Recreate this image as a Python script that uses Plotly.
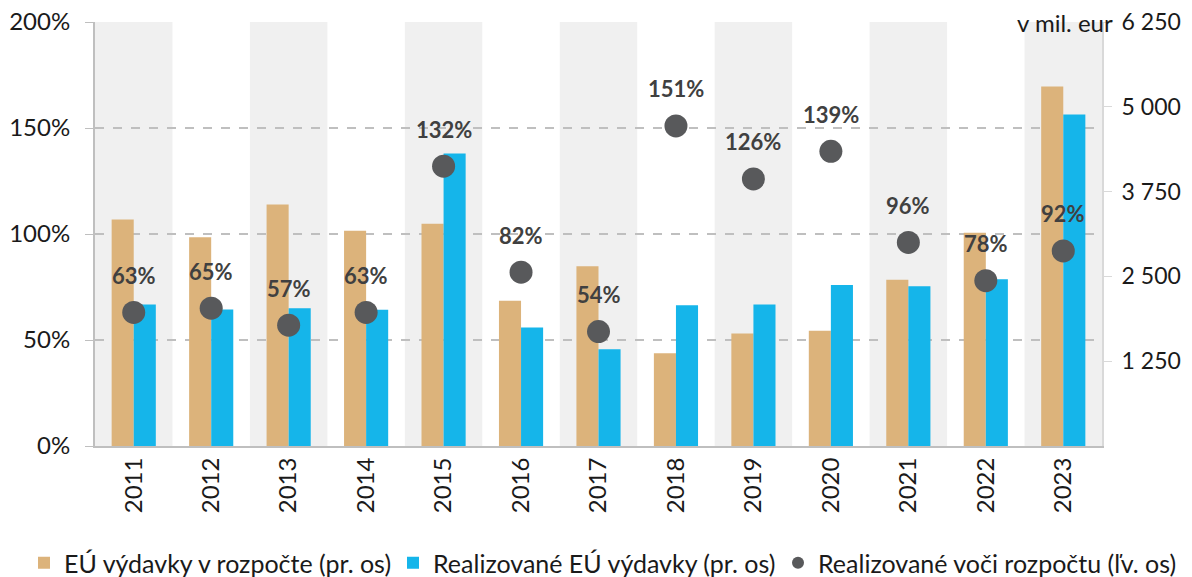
import plotly.graph_objects as go

years = [str(y) for y in range(2011, 2024)]
budget = [3338, 3078, 3560, 3172, 3275, 2140, 2650, 1368, 1658, 1700, 2450, 3143, 5300]
realized = [2085, 2012, 2031, 2007, 4312, 1747, 1427, 2076, 2085, 2375, 2356, 2459, 4887]
ratio = [63, 65, 57, 63, 132, 82, 54, 151, 126, 139, 96, 78, 92]

left_ticks = [0, 50, 100, 150, 200]
right_ticks = [1250, 2500, 3750, 5000, 6250]
right_labels = ["1 250", "2 500", "3 750", "5 000", "6 250"]

TAN = "#DCB37B"
BLUE = "#15B5EA"
DOT = "#58595B"
GRID = "#BFBFBF"
FONT = "Lato"

W, H = 1184, 569
xpos = list(range(len(years)))

fig = go.Figure()
fig.add_trace(go.Bar(x=xpos, y=budget, name="EÚ výdavky v rozpočte (pr. os)",
                     marker=dict(color=TAN, line=dict(width=0)), yaxis="y", legend="legend"))
fig.add_trace(go.Bar(x=xpos, y=realized, name="Realizované EÚ výdavky (pr. os)",
                     marker=dict(color=BLUE, line=dict(width=0)), yaxis="y", legend="legend2"))
fig.add_trace(go.Scatter(x=xpos, y=ratio, name="Realizované voči rozpočtu (ľv. os)",
                         mode="markers", marker=dict(color=DOT, size=23), yaxis="y2",
                         legend="legend3"))

shapes = []
for i in range(0, len(years), 2):
    shapes.append(dict(type="rect", xref="x", yref="paper", x0=i - 0.5, x1=i + 0.5,
                       y0=0, y1=1, fillcolor="#F0F0F0", line=dict(width=0), layer="below"))

annotations = []
for xi, r in zip(xpos, ratio):
    annotations.append(dict(x=xi, y=r, xref="x", yref="y2", text=f"<b>{r}%</b>",
                            showarrow=False, yshift=37,
                            font=dict(family=FONT, size=22, color="#404040")))
annotations.append(dict(x=1, y=1, xref="paper", yref="paper", text="v mil. eur",
                        showarrow=False, xanchor="right", yanchor="middle", xshift=13, yshift=0,
                        font=dict(family=FONT, size=24, color="#1a1a1a")))


def leg(px_left):
    return dict(orientation="h", xref="container", yref="container", x=px_left / W,
                y=1 - 555 / H, xanchor="left", yanchor="middle", font=dict(size=25),
                itemsizing="constant", itemwidth=30, bgcolor="rgba(0,0,0,0)")


fig.update_layout(
    width=W, height=H,
    margin=dict(l=87, r=90, t=14, b=131, autoexpand=False),
    paper_bgcolor="white", plot_bgcolor="white",
    font=dict(family=FONT, size=24, color="#1a1a1a"),
    barmode="group", bargap=0.43, bargroupgap=0,
    shapes=shapes, annotations=annotations,
    showlegend=True,
    legend=leg(56 - 40),
    legend2=leg(425 - 40),
    legend3=leg(810 - 40),
    xaxis=dict(type="linear", range=[-0.5, len(years) - 0.5], tickvals=xpos, ticktext=years,
               tickangle=-90, showline=True, linecolor=GRID, linewidth=2, automargin=False,
               ticks="", showgrid=False, zeroline=False, tickfont=dict(size=24)),
    yaxis=dict(side="right", range=[0, 6250], tickvals=right_ticks, ticktext=right_labels,
               showgrid=False, showline=True, linecolor="#D9D9D9", linewidth=2, automargin=False,
               ticks="outside", ticklen=8, tickcolor="#D9D9D9", zeroline=False,
               ticklabelstandoff=5,
               ticklabeloverflow="allow", tickfont=dict(size=23)),
    yaxis2=dict(side="left", overlaying="y", range=[0, 200], tickvals=left_ticks,
                ticktext=[f"{v}%" for v in left_ticks], automargin=False,
                showgrid=True, gridcolor=GRID, griddash="dash", gridwidth=2,
                showline=True, linecolor="#BFBFBF", linewidth=2,
                ticks="outside", ticklen=8, tickcolor=GRID, zeroline=False,
                ticklabelstandoff=10,
                ticklabeloverflow="allow", tickfont=dict(size=24)),
)

fig.write_html("out.html")
